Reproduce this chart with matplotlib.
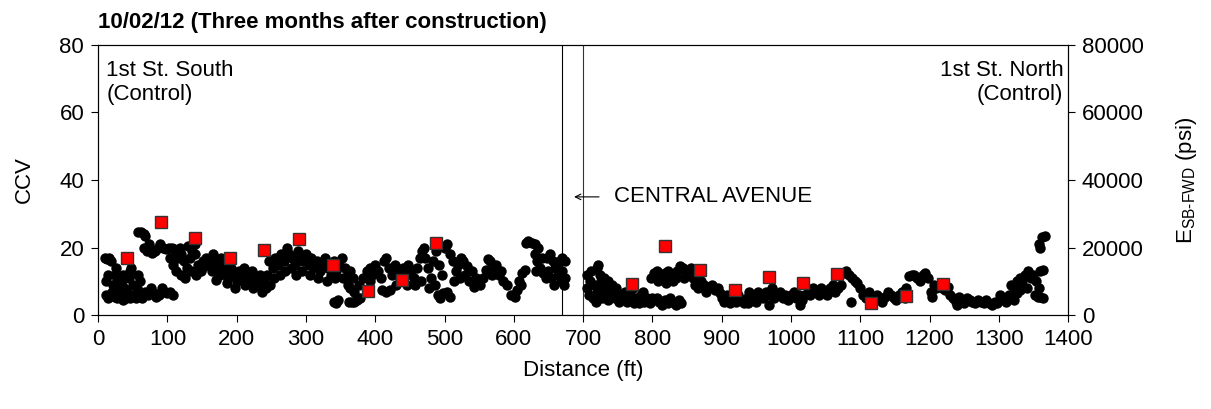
import numpy as np
import matplotlib
matplotlib.use("Agg")
import matplotlib.pyplot as plt

plt.rcParams['font.family'] = ['Liberation Sans', 'DejaVu Sans']
plt.rcParams['mathtext.fontset'] = 'custom'
plt.rcParams['mathtext.rm'] = 'Liberation Sans'
plt.rcParams['mathtext.it'] = 'Liberation Sans:italic'

# CCV roller readings, 1st St. South section (distance ft, CCV)
south_ccv = [
    (10, 17), (13, 16.5), (16, 17), (19, 16), (12, 10), (14, 12), (11, 6), (14, 5), (17, 6),
    (20, 7), (22, 9), (24, 12), (26, 14), (28, 10), (30, 8), (27, 5), (24, 5.5),
    (32, 6), (34, 10), (36, 12), (38, 8), (40, 5), (42, 7), (44, 11), (46, 13), (48, 14),
    (50, 9), (52, 6), (54, 5), (56, 8), (58, 12), (60, 10), (62, 6), (64, 5), (36, 4.5), (46, 5),
    (58, 24.5), (62, 24.5), (66, 24), (68, 23.5),
    (66, 20), (70, 19), (74, 21), (78, 18.5), (82, 19), (86, 20), (90, 21), (94, 20), (98, 19.5),
    (102, 20), (106, 20), (110, 19.5), (114, 19),
    (68, 7), (72, 6), (76, 8), (80, 6.5), (84, 5.5), (88, 6), (92, 8), (96, 7), (100, 6.5),
    (104, 7), (108, 6),
    (104, 17), (108, 15), (112, 13), (116, 17), (120, 18), (124, 16), (128, 14), (132, 17),
    (136, 19), (140, 18), (144, 15), (148, 13), (152, 16), (156, 17), (120, 12), (126, 11),
    (134, 13), (142, 12), (150, 14), (158, 15), (118, 20), (130, 20.5), (140, 21),
    (160, 15), (164, 13), (168, 16), (172, 14), (176, 12), (180, 15), (184, 13), (188, 11),
    (192, 14), (196, 12), (200, 10), (204, 13), (208, 11), (212, 9), (216, 12), (220, 10),
    (224, 8), (228, 11), (232, 9), (236, 7), (240, 10), (170, 10.5), (186, 9.5), (198, 8),
    (210, 14), (222, 13), (234, 12), (166, 18), (178, 17),
    (244, 12), (248, 9), (252, 14), (256, 17), (260, 15), (264, 18), (268, 16), (272, 20),
    (276, 18), (280, 17), (284, 15), (288, 19), (292, 17), (296, 16), (300, 18), (254, 11),
    (262, 12), (270, 13), (278, 14), (286, 12), (294, 13), (242, 8), (246, 16),
    (304, 15), (308, 17), (312, 14), (316, 16), (320, 13), (324, 15), (328, 17), (332, 14),
    (336, 12), (340, 16), (344, 13), (348, 15), (352, 17), (356, 14), (360, 12), (364, 13),
    (368, 11), (306, 12), (318, 11), (330, 10), (342, 11), (354, 11),
    (340, 4), (343, 3.5), (346, 4.5), (362, 4), (366, 3.8), (370, 4), (374, 4.5), (378, 5),
    (360, 9), (364, 8), (370, 7), (376, 9), (382, 11), (388, 13), (392, 10),
    (392, 14), (396, 12), (400, 15), (404, 13), (408, 11), (412, 16), (416, 17), (420, 14),
    (424, 12), (428, 15), (432, 13), (436, 11), (440, 14), (444, 12), (448, 15), (452, 13),
    (456, 11), (460, 14), (464, 17), (468, 19), (470, 20), (410, 7.5), (416, 7), (422, 7.5),
    (430, 9), (446, 9), (458, 9), (466, 10),
    (472, 17), (476, 14), (480, 11), (484, 16), (488, 19), (492, 15), (496, 12), (500, 20),
    (504, 21), (508, 18), (512, 16), (516, 13), (520, 15), (524, 17), (478, 8), (486, 9),
    (490, 6), (494, 5), (498, 6.5), (504, 7), (508, 5.5), (514, 10), (522, 11),
    (527, 16), (533, 14.5), (539, 13), (545, 11), (551, 9), (530, 12), (536, 10), (542, 8.5),
    (556, 11), (560, 13.5), (566, 16), (572, 14), (578, 12), (584, 10), (590, 9),
    (563, 16.5), (569, 12), (575, 15), (581, 13),
    (596, 6), (600, 6), (604, 7.5), (608, 10), (612, 12.5), (616, 13.5), (602, 5.5), (610, 9),
    (617, 21.5), (621, 22), (626, 21.5), (631, 21), (635, 20),
    (630, 18), (634, 16), (638, 14), (642, 12.5), (646, 11), (632, 13), (640, 17),
    (648, 17), (652, 18), (656, 16), (660, 14), (664, 12), (668, 10), (672, 9), (650, 13),
    (654, 11), (658, 9), (662, 15), (666, 16), (670, 13), (674, 11), (670, 17), (674, 16),
]

# CCV roller readings, 1st St. North section
north_ccv = [
    (705, 8), (706, 12), (708, 6), (710, 10), (712, 13), (714, 5), (716, 9), (718, 4),
    (720, 14), (722, 15), (724, 12), (726, 10), (728, 8), (730, 11), (732, 9), (734, 7),
    (736, 10), (738, 8), (740, 6), (742, 9), (744, 7), (746, 5), (748, 8), (750, 6), (752, 4),
    (720, 7), (728, 5), (736, 4.5),
    (756, 5), (760, 7), (764, 4), (768, 6), (772, 8), (776, 5), (780, 3.5), (784, 6), (788, 4),
    (792, 5), (796, 3.5), (800, 5), (762, 5.5), (774, 3.5), (786, 7),
    (798, 11), (802, 12.5), (806, 13), (810, 12), (814, 11), (818, 12.5), (822, 13), (826, 11),
    (830, 10), (834, 11), (808, 10), (820, 9.5),
    (806, 5), (810, 4), (814, 3), (818, 4.5), (822, 3.5), (826, 5), (830, 4), (834, 3),
    (838, 4.5), (842, 3.5),
    (836, 13), (840, 14.5), (844, 14), (848, 13), (852, 12.5), (856, 14), (860, 13), (846, 11),
    (858, 11),
    (862, 9), (866, 8), (870, 10), (874, 9), (878, 7), (882, 8.5), (886, 9), (890, 7.5),
    (894, 8), (898, 6.5),
    (900, 5), (904, 4), (908, 6), (912, 3.5), (916, 5), (920, 4), (924, 6), (928, 4.5),
    (932, 3.5),
    (936, 5), (940, 7), (944, 6), (948, 5), (952, 7), (956, 6), (960, 5), (938, 3.5), (950, 4),
    (964, 7), (968, 6), (969, 3), (972, 8), (976, 5), (980, 6), (984, 7), (988, 5), (992, 6),
    (996, 4.5), (1000, 6), (1004, 7), (1008, 5), (1012, 6), (1013, 3), (1016, 4.5), (1020, 6),
    (1024, 7), (1028, 6), (1032, 8), (1036, 7), (1040, 6), (1044, 8), (1048, 7), (1052, 6),
    (1056, 8), (1060, 9), (1064, 7), (1068, 8), (1072, 9),
    (1076, 12.5), (1080, 13), (1084, 12), (1088, 11), (1092, 10), (1096, 9.5), (1087, 4),
    (1100, 8), (1104, 6), (1108, 5), (1112, 7), (1116, 5.5), (1120, 4.5), (1124, 6), (1128, 5),
    (1132, 4), (1136, 5.5), (1140, 7), (1144, 6), (1148, 5), (1152, 4.5), (1156, 6), (1160, 7),
    (1164, 5),
    (1166, 8), (1168, 6), (1170, 11.5), (1174, 12), (1178, 12), (1182, 11), (1186, 10),
    (1190, 12), (1194, 12.5), (1198, 11), (1202, 7), (1203, 5.5), (1206, 9), (1210, 8),
    (1214, 9), (1218, 8), (1222, 7.5), (1226, 8.5),
    (1230, 6), (1234, 5), (1238, 4), (1242, 5.5), (1246, 4), (1250, 3.5), (1254, 5), (1258, 4.5),
    (1262, 4), (1266, 3.5), (1270, 4.5), (1274, 4), (1278, 3.5), (1282, 4.5), (1286, 3.5),
    (1290, 3), (1294, 4), (1298, 3.5), (1240, 3),
    (1302, 6), (1306, 5), (1310, 4), (1314, 6), (1318, 5), (1322, 4.5), (1326, 6.5),
    (1318, 9), (1322, 8), (1326, 10), (1330, 11), (1334, 10), (1338, 12), (1342, 13), (1346, 11),
    (1350, 12), (1354, 10), (1358, 8), (1330, 7.5), (1340, 8),
    (1358, 21), (1360, 20), (1362, 23), (1366, 23.5), (1360, 13), (1364, 13.5),
    (1352, 6), (1356, 5.5), (1360, 5.5), (1364, 5),
]

# SB-FWD modulus test locations
fwd_dist = [42, 91, 140, 190, 240, 290, 339, 389, 438, 488,
            770, 818, 869, 919, 968, 1018, 1067, 1116, 1166, 1219]
fwd_psi = [16900, 27500, 22800, 16800, 19200, 22500, 15000, 7300, 10400, 21300,
           9400, 20500, 13400, 7500, 11400, 9600, 12100, 3500, 5700, 9300]

ccv = np.array(south_ccv + north_ccv)

fig = plt.figure(figsize=(12.11, 4.09), dpi=100)
ax = fig.add_axes([0.081, 0.229, 0.801, 0.662])
ax2 = ax.twinx()

ax.plot(ccv[:, 0], ccv[:, 1], 'o', color='black', ms=7.5, mew=0, zorder=3)
ax2.plot(fwd_dist, fwd_psi, 's', color='red', mec='#333333', mew=1, ms=8, zorder=4)

ax.axvline(670, color='black', lw=0.8)
ax.axvline(700, color='#333333', lw=0.8)

fs = 16
ax.annotate('', xy=(683, 35), xytext=(727, 35),
            arrowprops=dict(arrowstyle='->', color='black', lw=0.8))
ax.text(744, 35, 'CENTRAL AVENUE', fontsize=fs, va='center', ha='left')
ax.text(12, 75.5, '1st St. South\n(Control)', fontsize=fs, va='top', ha='left', linespacing=1.2)
ax.text(1393, 75.5, '1st St. North\n(Control)', fontsize=fs, va='top', ha='right',
        linespacing=1.2, multialignment='right')

ax.set_xlim(0, 1400)
ax.set_ylim(0, 80)
ax2.set_ylim(0, 80000)
ax.set_xticks(np.arange(0, 1401, 100))
ax.set_yticks(np.arange(0, 81, 20))
ax2.set_yticks(np.arange(0, 80001, 20000))

for a in (ax, ax2):
    a.tick_params(direction='out', length=5, width=0.8, labelsize=fs, pad=5)
    for s in a.spines.values():
        s.set_linewidth(0.8)

ax.set_xlabel('Distance (ft)', fontsize=fs, labelpad=7)
ax.set_ylabel('CCV', fontsize=fs, labelpad=18)
ax2.set_ylabel(r'E$_{\mathrm{SB\text{-}FWD}}$ (psi)', fontsize=fs, labelpad=22)
ax.set_title('10/02/12 (Three months after construction)', fontsize=16, fontweight='bold',
             loc='left', pad=12)

fig.savefig('out.png', dpi=100)
